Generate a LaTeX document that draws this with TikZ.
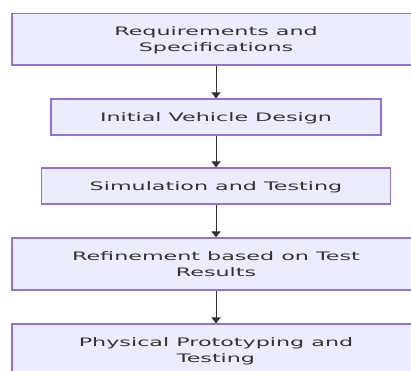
\documentclass[tikz,border=0pt]{standalone}
\usepackage{fontspec}
\newfontfamily\wfont[FakeStretch=1.9]{DejaVu Sans}
\usetikzlibrary{arrows.meta}
\definecolor{boxfill}{HTML}{ECECFF}
\definecolor{boxline}{HTML}{9370DB}
\definecolor{txt}{HTML}{333333}
\definecolor{arr}{HTML}{333333}
\newcommand{\twolines}[2]{\raisebox{3.6pt}[0pt][0pt]{\begin{tabular}[t]{@{}c@{}}#1\\#2\end{tabular}}\hspace*{40pt}}
\tikzset{
  x=1pt, y=1pt,
  basebox/.style={draw=boxline, fill=boxfill, line width=1.2pt, text=txt,
    inner sep=0pt, font=\wfont\fontsize{11.7}{15.7}\selectfont},
  stepbox/.style={basebox, align=center, text height=9.4pt, text depth=0pt},
  widebox/.style={basebox, minimum width=448pt, minimum height=52pt},
  flow/.style={draw=arr, line width=1pt, -{Triangle[width=9pt,length=6pt]}}
}
\begin{document}
\begin{tikzpicture}
\useasboundingbox (0,0) rectangle (411,-370);
\clip (0,0) rectangle (411,-370);
\node[widebox, minimum height=51.5pt] (n1) at (236,-39.25) {\twolines{Requirements and}{Specifications}};
\node[stepbox, minimum width=330pt, minimum height=36pt] (n2) at (216,-117) {Initial Vehicle Design};
\node[stepbox, minimum width=349pt, minimum height=36pt] (n3) at (216,-186) {Simulation and Testing};
\node[widebox] (n4) at (236,-264) {\twolines{Refinement based on Test}{Results}};
\node[widebox] (n5) at (236,-350) {\twolines{Physical Prototyping and}{Testing}};
\draw[flow] (n2|-n1.south) -- (n2.north);
\draw[flow] (n2.south) -- (n3.north);
\draw[flow] (n3.south) -- (n2|-n4.north);
\draw[flow] (n2|-n4.south) -- (n2|-n5.north);
\end{tikzpicture}
\end{document}
